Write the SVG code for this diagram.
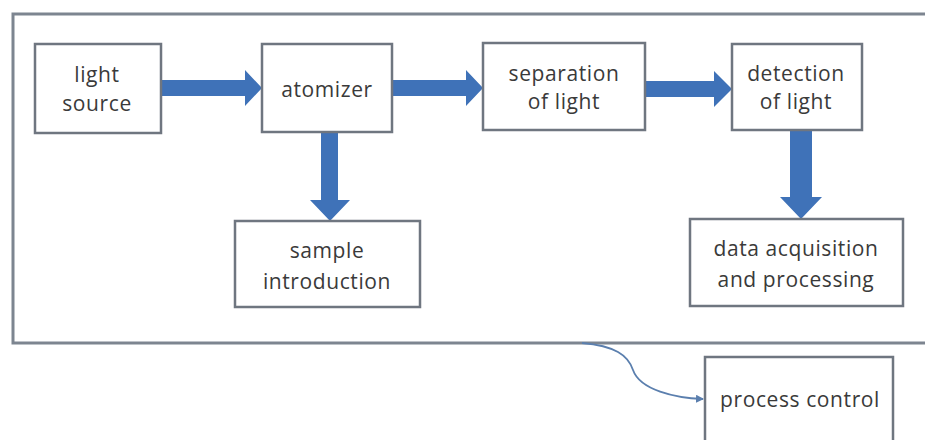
<svg xmlns="http://www.w3.org/2000/svg" width="925" height="440" viewBox="0 0 925 440">
<style>
.box{fill:#ffffff;stroke:#6f7680;stroke-width:2.5}
.frame{fill:none;stroke:#7d8590;stroke-width:3}
.lbl{font-family:"Open Sans","Liberation Sans",sans-serif;font-size:21px;letter-spacing:0.6px;fill:#3a3a3a;text-anchor:middle}
.arr{fill:#3f72b8}
.thin{fill:none;stroke:#5b7fae;stroke-width:1.8}
</style>
<defs>
<marker id="ah" markerWidth="8" markerHeight="8" refX="7" refY="4" orient="auto" markerUnits="userSpaceOnUse">
<path d="M0,0 L8,4 L0,8 Z" fill="#5b7fae"/>
</marker>
</defs>
<rect width="925" height="440" fill="#ffffff"/>
<rect class="frame" x="13" y="14" width="930" height="329"/>
<g id="connectors">
<path class="arr" d="M162,80 H245 V70 L262,88 L245,106 V96 H162 Z"/>
<path class="arr" d="M392,80 H466 V70 L483,88 L466,106 V96 H392 Z"/>
<path class="arr" d="M645,81 H714 V71 L732,89 L714,107 V97 H645 Z"/>
<path class="arr" d="M321,132 H338 V200 H350 L330,221 L310,200 H321 Z"/>
<path class="arr" d="M790,130 H812 V197 H822 L801,219 L780,197 H790 Z"/>
<path class="thin" marker-end="url(#ah)" d="M582,343 C615,346 628,355 633,370 C640,390 675,398 703,399"/>
</g>
<g id="light-source">
<rect class="box" x="35" y="44" width="126" height="89"/>
<text class="lbl" x="97" y="82">light</text>
<text class="lbl" x="97" y="111">source</text>
</g>
<g id="atomizer">
<rect class="box" x="262" y="44" width="130" height="88"/>
<text class="lbl" x="327" y="97">atomizer</text>
</g>
<g id="separation">
<rect class="box" x="483" y="43" width="162" height="87"/>
<text class="lbl" x="564" y="81">separation</text>
<text class="lbl" x="564" y="109">of light</text>
</g>
<g id="detection">
<rect class="box" x="732" y="44" width="130" height="86"/>
<text class="lbl" x="796" y="81">detection</text>
<text class="lbl" x="796" y="109">of light</text>
</g>
<g id="sample-introduction">
<rect class="box" x="235" y="221" width="185" height="86"/>
<text class="lbl" x="327" y="258">sample</text>
<text class="lbl" x="327" y="289">introduction</text>
</g>
<g id="data-acquisition">
<rect class="box" x="690" y="219" width="213" height="87"/>
<text class="lbl" x="796" y="256">data acquisition</text>
<text class="lbl" x="796" y="287">and processing</text>
</g>
<g id="process-control">
<rect class="box" x="705" y="357" width="188" height="100"/>
<text class="lbl" x="800" y="407">process control</text>
</g>
</svg>
